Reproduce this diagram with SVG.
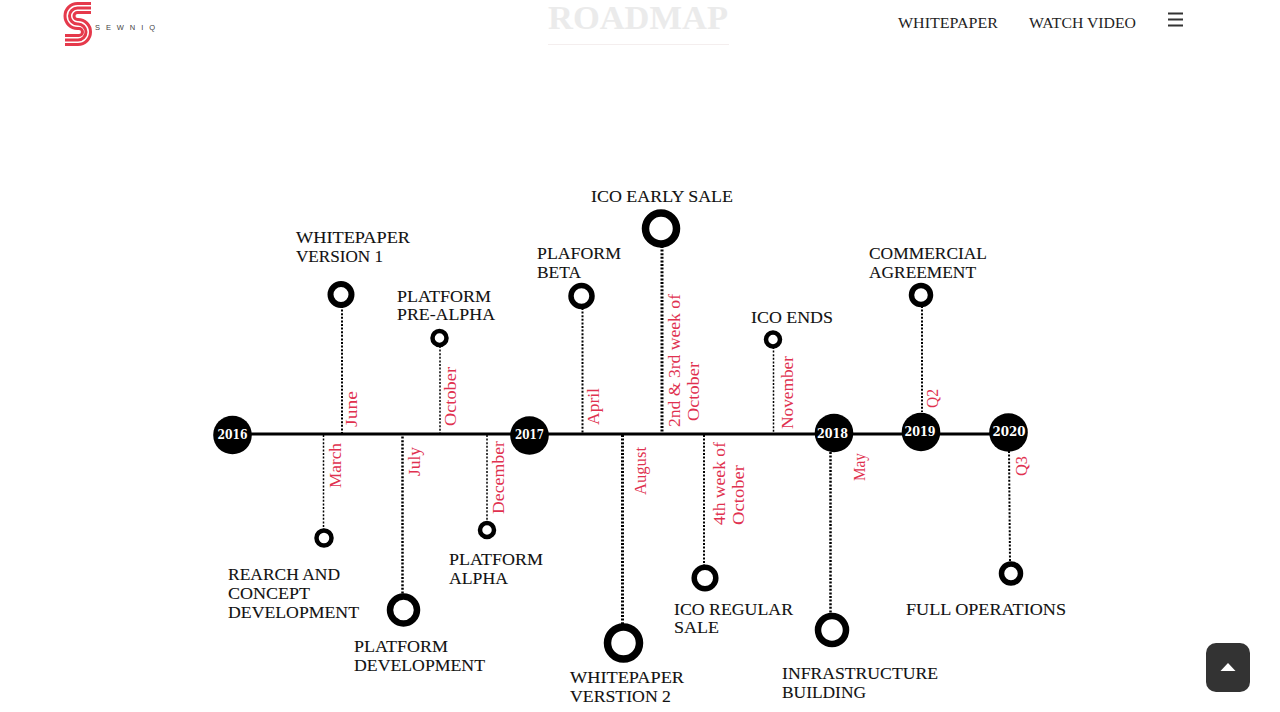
<svg xmlns="http://www.w3.org/2000/svg" width="1280" height="712" viewBox="0 0 1280 712">
<style>
text{font-family:"Liberation Serif","Times New Roman",serif}
.l{font-size:16.5px;fill:#111;stroke:#111;stroke-width:.1}
.m{font-size:16.5px;fill:#e0314f}
.n{font-size:14px;fill:#222}
.y{font-family:"DejaVu Serif",serif;font-size:12px;font-weight:700;fill:#fff;text-anchor:middle}
.yc{fill:#000}
.r{fill:#fff;stroke:#000}
.d{fill:none;stroke:#000;stroke-dasharray:2 1.6}
.ls{fill:none;stroke:#e5394b;stroke-width:3}
</style>
<rect width="1280" height="712" fill="#fff"/>
<g id="logo">
<path class="ls" d="M91 3.500H77.500A12.500 12.500 0 0 0 77.500 28.500H79A3.500 3.500 0 0 1 79 35.500H65"/>
<path class="ls" d="M91 8H77.500A8 8 0 0 0 77.500 24H78A8 8 0 0 1 78 40H65"/>
<path class="ls" d="M91 12.500H77.500A3.500 3.500 0 0 0 77.500 19.500H78A12.500 12.500 0 0 1 78 44.500H65"/>
<text x="95" y="29.500" font-size="7.500" fill="#444" textLength="60" style="font-family:'Liberation Sans',sans-serif">SEWNIQ</text>
</g>
<g id="title">
<text x="548" y="28.500" font-size="33" font-weight="700" fill="#ebebeb" textLength="180" lengthAdjust="spacingAndGlyphs">ROADMAP</text>
<rect x="548" y="44" width="181" height="1" fill="#f4eeee"/>
</g>
<g id="nav">
<text class="n" x="898" y="28" textLength="100" lengthAdjust="spacingAndGlyphs">WHITEPAPER</text>
<text class="n" x="1029" y="28" textLength="107" lengthAdjust="spacingAndGlyphs">WATCH VIDEO</text>
<path d="M1168 13.500H1183M1168 19.500H1183M1168 25.500H1183" stroke="#333" stroke-width="2" fill="none"/>
</g>
<g id="connectors">
<path d="M232 434H1008" stroke="#000" stroke-width="3" fill="none"/>
<path class="d" stroke-width="2" d="M342 306V433"/>
<path class="d" stroke-width="1.500" d="M440 346V433"/>
<path class="d" stroke-width="2" d="M582.500 308V433"/>
<path class="d" stroke-width="3" d="M662 246V432"/>
<path class="d" stroke-width="1.500" d="M773.500 347V433"/>
<path class="d" stroke-width="2" d="M922 306V412"/>
<path class="d" stroke-width="1.500" d="M323.500 435V529"/>
<path class="d" stroke-width="2.500" d="M402.500 433V595"/>
<path class="d" stroke-width="1.500" d="M487 435V521"/>
<path class="d" stroke-width="3" d="M622.500 435V625"/>
<path class="d" stroke-width="2" d="M704 435V566"/>
<path class="d" stroke-width="2.500" d="M830.500 452V615"/>
<path class="d" stroke-width="2" d="M1009 451L1010 562"/>
</g>
<g id="y2016"><circle class="yc" cx="232.500" cy="435" r="19.300"/><text class="y" x="232.500" y="439" textLength="30" lengthAdjust="spacingAndGlyphs">2016</text></g>
<g id="y2017"><circle class="yc" cx="529.500" cy="435.500" r="19.300"/><text class="y" x="529.500" y="439" textLength="29" lengthAdjust="spacingAndGlyphs">2017</text></g>
<g id="y2018"><circle class="yc" cx="834" cy="433" r="19.300"/><text class="y" x="832.500" y="438" textLength="31" lengthAdjust="spacingAndGlyphs">2018</text></g>
<g id="y2019"><circle class="yc" cx="921" cy="432" r="19.300"/><text class="y" x="920" y="436" textLength="31" lengthAdjust="spacingAndGlyphs">2019</text></g>
<g id="y2020"><circle class="yc" cx="1008.500" cy="432.500" r="19.300"/><text class="y" x="1009" y="435.500" textLength="33" lengthAdjust="spacingAndGlyphs">2020</text></g>

<g id="n-whitepaper1"><circle class="r" cx="341" cy="294.500" r="10.500" stroke-width="6"/><text class="l" x="296" y="243" textLength="114" lengthAdjust="spacingAndGlyphs">WHITEPAPER</text><text class="l" x="296" y="262" textLength="87" lengthAdjust="spacingAndGlyphs">VERSION 1</text>
<text class="m" transform="translate(357 427) rotate(-90)" textLength="36" lengthAdjust="spacingAndGlyphs">June</text></g>
<g id="n-prealpha"><circle class="r" cx="439.500" cy="338" r="7" stroke-width="4.500"/><text class="l" x="397" y="302" textLength="94" lengthAdjust="spacingAndGlyphs">PLATFORM</text><text class="l" x="397" y="320" textLength="98" lengthAdjust="spacingAndGlyphs">PRE-ALPHA</text>
<text class="m" transform="translate(455.500 426) rotate(-90)" textLength="59" lengthAdjust="spacingAndGlyphs">October</text></g>
<g id="n-beta"><circle class="r" cx="581.500" cy="296" r="10.500" stroke-width="5.500"/><text class="l" x="537" y="259" textLength="84" lengthAdjust="spacingAndGlyphs">PLAFORM</text><text class="l" x="537" y="278" textLength="44" lengthAdjust="spacingAndGlyphs">BETA</text>
<text class="m" transform="translate(598.500 425) rotate(-90)" textLength="37" lengthAdjust="spacingAndGlyphs">April</text></g>
<g id="n-earlysale"><circle class="r" cx="661" cy="228.500" r="15.500" stroke-width="7.500"/><text class="l" x="591" y="201.500" textLength="142" lengthAdjust="spacingAndGlyphs">ICO EARLY SALE</text>
<text class="m" transform="translate(680 427) rotate(-90)" textLength="133" lengthAdjust="spacingAndGlyphs">2nd &amp; 3rd week of</text><text class="m" transform="translate(699 421) rotate(-90)" textLength="59" lengthAdjust="spacingAndGlyphs">October</text></g>
<g id="n-icoends"><circle class="r" cx="773" cy="339.500" r="7" stroke-width="4.500"/><text class="l" x="751" y="323" textLength="82" lengthAdjust="spacingAndGlyphs">ICO ENDS</text>
<text class="m" transform="translate(793 429) rotate(-90)" textLength="73" lengthAdjust="spacingAndGlyphs">November</text></g>
<g id="n-commercial"><circle class="r" cx="921" cy="295" r="9.500" stroke-width="5.500"/><text class="l" x="869" y="259" textLength="118" lengthAdjust="spacingAndGlyphs">COMMERCIAL</text><text class="l" x="869" y="278" textLength="107" lengthAdjust="spacingAndGlyphs">AGREEMENT</text>
<text class="m" transform="translate(938 408) rotate(-90)" textLength="19" lengthAdjust="spacingAndGlyphs">Q2</text></g>
<g id="n-research"><circle class="r" cx="324" cy="538" r="7.500" stroke-width="4.500"/><text class="l" x="228" y="580" textLength="112" lengthAdjust="spacingAndGlyphs">REARCH AND</text><text class="l" x="228" y="599" textLength="82" lengthAdjust="spacingAndGlyphs">CONCEPT</text><text class="l" x="228" y="618" textLength="131" lengthAdjust="spacingAndGlyphs">DEVELOPMENT</text>
<text class="m" transform="translate(341 488) rotate(-90)" textLength="45" lengthAdjust="spacingAndGlyphs">March</text></g>
<g id="n-platdev"><circle class="r" cx="403.500" cy="610" r="13.500" stroke-width="6.500"/><text class="l" x="354" y="652" textLength="94" lengthAdjust="spacingAndGlyphs">PLATFORM</text><text class="l" x="354" y="671" textLength="131" lengthAdjust="spacingAndGlyphs">DEVELOPMENT</text>
<text class="m" transform="translate(420 476) rotate(-90)" textLength="29" lengthAdjust="spacingAndGlyphs">July</text></g>
<g id="n-alpha"><circle class="r" cx="487" cy="530" r="7" stroke-width="4.500"/><text class="l" x="449" y="565" textLength="94" lengthAdjust="spacingAndGlyphs">PLATFORM</text><text class="l" x="449" y="584" textLength="59" lengthAdjust="spacingAndGlyphs">ALPHA</text>
<text class="m" transform="translate(503.500 514) rotate(-90)" textLength="73" lengthAdjust="spacingAndGlyphs">December</text></g>
<g id="n-whitepaper2"><circle class="r" cx="623.500" cy="643" r="16" stroke-width="7.500"/><text class="l" x="570" y="683" textLength="114" lengthAdjust="spacingAndGlyphs">WHITEPAPER</text><text class="l" x="570" y="702" textLength="101" lengthAdjust="spacingAndGlyphs">VERSTION 2</text>
<text class="m" transform="translate(646 495) rotate(-90)" textLength="48" lengthAdjust="spacingAndGlyphs">August</text></g>
<g id="n-regular"><circle class="r" cx="705" cy="578" r="10.800" stroke-width="5.500"/><text class="l" x="674" y="615" textLength="119" lengthAdjust="spacingAndGlyphs">ICO REGULAR</text><text class="l" x="674" y="633" textLength="45" lengthAdjust="spacingAndGlyphs">SALE</text>
<text class="m" transform="translate(725 525) rotate(-90)" textLength="83" lengthAdjust="spacingAndGlyphs">4th week of</text><text class="m" transform="translate(744 525) rotate(-90)" textLength="60" lengthAdjust="spacingAndGlyphs">October</text></g>
<g id="n-infra"><circle class="r" cx="832" cy="630" r="14" stroke-width="6.500"/><text class="l" x="782" y="679" textLength="156" lengthAdjust="spacingAndGlyphs">INFRASTRUCTURE</text><text class="l" x="782" y="698" textLength="84" lengthAdjust="spacingAndGlyphs">BUILDING</text>
<text class="m" transform="translate(865 481) rotate(-90)" textLength="28" lengthAdjust="spacingAndGlyphs">May</text></g>
<g id="n-full"><circle class="r" cx="1011" cy="573.500" r="9.500" stroke-width="5.500"/><text class="l" x="906" y="615" textLength="160" lengthAdjust="spacingAndGlyphs">FULL OPERATIONS</text>
<text class="m" transform="translate(1026.500 476) rotate(-90)" textLength="20" lengthAdjust="spacingAndGlyphs">Q3</text></g>
<g id="top-button">
<rect x="1206" y="643" width="44" height="49" rx="10" fill="#333"/>
<path d="M1228 663L1235.500 671H1220.500Z" fill="#fff"/>
</g>
</svg>
